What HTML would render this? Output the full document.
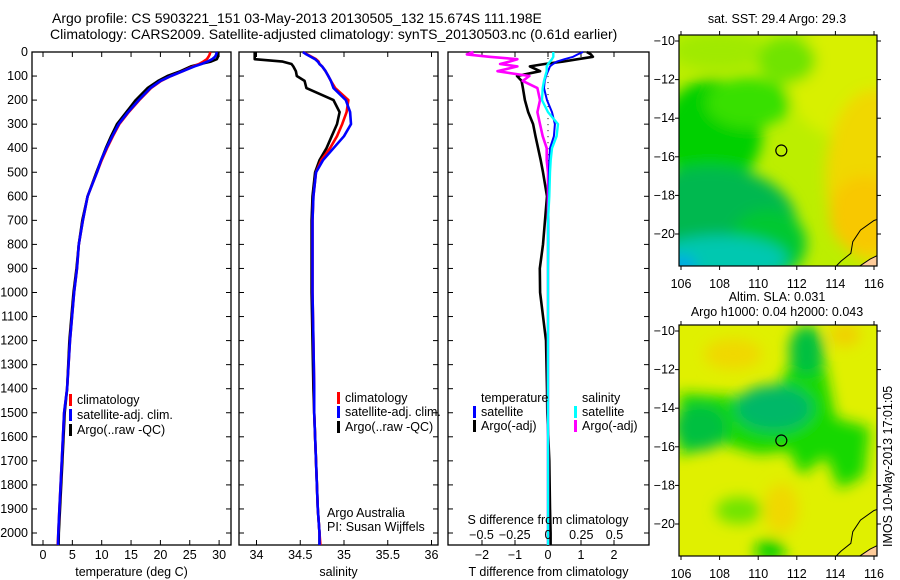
<!DOCTYPE html>
<html><head><meta charset="utf-8">
<style>
html,body{margin:0;padding:0;background:#fff;}
svg{display:block;font-family:"Liberation Sans",sans-serif;}
text{font-size:12.5px;fill:#000;}
</style></head>
<body>
<svg id="fig" width="900" height="580" viewBox="0 0 900 580" xmlns="http://www.w3.org/2000/svg">
<defs>
<filter id="blur1" x="-20%" y="-20%" width="140%" height="140%"><feGaussianBlur stdDeviation="9"/></filter>
<filter id="blur2" x="-20%" y="-20%" width="140%" height="140%"><feGaussianBlur stdDeviation="7"/></filter>
<clipPath id="clipTop"><rect x="679" y="35" width="198" height="231"/></clipPath>
<clipPath id="clipBot"><rect x="679" y="325" width="198" height="231"/></clipPath>
</defs>
<text x="52" y="23" style="font-size:14px">Argo profile: CS 5903221_151 03-May-2013 20130505_132 15.674S 111.198E</text>
<text x="50" y="39" style="font-size:14px">Climatology: CARS2009. Satellite-adjusted climatology: synTS_20130503.nc (0.61d earlier)</text>
<g id="plots"></g>
<g id="maps"></g>
</svg>
<script>
// ===== data =====
const depths = [0,10,20,30,40,50,60,80,100,120,150,200,250,300,350,400,450,500,600,700,800,900,1000,1200,1400,1500,1700,1900,2000,2050];
const tempClim = [28.5,28.4,28.2,27.9,27.3,26.6,25.6,23.8,21.8,20.1,18.4,16.4,14.6,13.0,11.9,10.9,10.0,9.2,7.6,6.8,6.1,5.8,5.3,4.6,4.1,3.6,3.2,2.8,2.6,2.5];
const tempSat  = [29.6,29.5,29.3,28.8,28.0,27.0,25.8,23.8,21.8,20.0,18.3,16.3,14.5,12.9,11.8,10.8,9.9,9.2,7.6,6.8,6.1,5.8,5.3,4.6,4.1,3.6,3.2,2.8,2.6,2.55];
const tempArgo = [29.7,29.8,29.8,29.6,28.6,26.8,25.2,23.4,21.2,19.6,17.8,15.8,14.2,12.6,11.6,10.7,9.9,9.1,7.6,6.7,6.1,5.7,5.2,4.5,4.1,3.7,3.3,2.9,2.7,2.65];
const salClim  = [34.53,34.58,34.63,34.68,34.71,34.72,34.75,34.79,34.82,34.85,34.90,35.05,35.03,34.98,34.92,34.84,34.74,34.68,34.65,34.64,34.64,34.64,34.64,34.65,34.66,34.66,34.68,34.70,34.72,34.73];
const salSat   = [34.53,34.57,34.62,34.67,34.70,34.72,34.75,34.79,34.82,34.85,34.88,35.02,35.07,35.08,35.00,34.88,34.76,34.68,34.65,34.64,34.64,34.64,34.64,34.65,34.66,34.66,34.68,34.70,34.72,34.72];
const salArgo  = [33.98,33.98,33.98,33.98,34.30,34.40,34.42,34.45,34.46,34.55,34.57,34.88,34.95,34.92,34.86,34.80,34.72,34.67,34.64,34.63,34.63,34.63,34.63,34.64,34.65,34.66,34.68,34.70,34.72,34.72];
const tDiffSat  = [1.06,0.9,0.76,0.5,0.27,0.15,0.06,0.0,-0.06,-0.1,-0.12,-0.03,0.12,0.21,0.18,0.06,0.04,0.03,0.02,0.01,0.01,0.0,0.0,0.0,0.0,0.0,0.0,0.0,0.0,0.0];
const tDiffArgo = [1.18,1.3,1.36,0.9,0.45,-0.1,-0.55,-0.24,-0.94,-0.8,-0.76,-0.7,-0.6,-0.45,-0.38,-0.3,-0.22,-0.15,-0.03,-0.09,-0.15,-0.25,-0.24,-0.06,-0.03,-0.02,0.04,0.06,0.08,0.08];
const sDiffSat  = [0.04,0.04,0.04,0.03,0.015,0.0,-0.01,-0.01,-0.02,-0.03,-0.04,-0.045,0.0,0.075,0.065,0.03,0.02,0.015,0.01,0.0,0.0,0.0,0.0,0.0,0.0,0.0,0.0,0.0,0.0,0.0];
const sDiffArgo = [-0.56,-0.61,-0.44,-0.23,-0.29,-0.36,-0.23,-0.38,-0.14,-0.19,-0.08,-0.06,-0.08,-0.06,-0.04,-0.01,-0.01,0.0,0.0,0.0,0.0,0.0,0.0,0.0,0.0,0.0,0.0,0.0,0.0,0.0];
const depthTicks = [0,100,200,300,400,500,600,700,800,900,1000,1100,1200,1300,1400,1500,1600,1700,1800,1900,2000];
const tempTicks = [0,5,10,15,20,25,30];
const salTicks = [34,34.5,35,35.5,36];
const tDiffTicks = [-2,-1,0,1,2];
const sDiffTicks = [-0.5,-0.25,0,0.25,0.5];

// ===== scales =====
const TOP=52, BOT=545;
const yD = d => TOP + d*0.2405;
const xT = t => 43 + t*5.87;
const xS = s => 256.5 + (s-34)*87.5;
const xTD = v => 548 + v*33;
const xSD = v => 548 + v*133;

const NS='http://www.w3.org/2000/svg';
const plots=document.getElementById('plots');
function mk(tag, attrs, parent, txt){
  const e=document.createElementNS(NS,tag);
  for(const k in attrs) e.setAttribute(k,attrs[k]);
  if(txt!==undefined) e.textContent=txt;
  (parent||plots).appendChild(e); return e;
}
function fmt(v){return String(v).replace('-','\u2212');}

function panel(name,x0,x1,ticks,xs,title){
  const g=mk('g',{});
  
  
  const r=mk('rect',{x:x0,y:TOP,width:x1-x0,height:BOT-TOP,fill:'none',stroke:'#000','stroke-width':1.3},g);
  
  
  ticks.forEach(t=>{
    const x=xs(t);
    mk('line',{x1:x,x2:x,y1:TOP,y2:TOP+5,stroke:'#000'},g);
    mk('line',{x1:x,x2:x,y1:BOT,y2:BOT-5,stroke:'#000'},g);
    const tl=mk('text',{x:x,y:559,'text-anchor':'middle'},g,fmt(t));
    
    
  });
  depthTicks.forEach(d=>{
    const y=yD(d);
    mk('line',{x1:x0,x2:x0+5,y1:y,y2:y,stroke:'#000'},g);
    mk('line',{x1:x1,x2:x1-5,y1:y,y2:y,stroke:'#000'},g);
  });
  if(title){
    const tt=mk('text',{x:(x0+x1)/2,y:576,'text-anchor':'middle'},g,title);
    
    
  }
  return g;
}
function series(name,xs,vals,color,w){
  let d='';
  depths.forEach((dep,i)=>{d+=(i?'L':'M')+xs(vals[i]).toFixed(1)+','+yD(dep).toFixed(1);});
  const p=mk('path',{d:d,fill:'none',stroke:color,'stroke-width':w||2.6,'stroke-linejoin':'round'});
  
  
}
function legend(x,y,color,label,nm){
  mk('rect',{x:x,y:y-6,width:3,height:12,fill:color});
  const t=mk('text',{x:x+8,y:y+4},plots,label);
  
  
}

// panel 1 temperature
panel('temperature',32,231,tempTicks,xT,'temperature (deg C)');
depthTicks.forEach(d=>{
  const t=mk('text',{x:28,y:yD(d)+4,'text-anchor':'end'},plots,String(d));
  
  
});
series('temp-argo-line',xT,tempArgo,'#000');
series('temp-clim-line',xT,tempClim,'#f00');
series('temp-sat-line',xT,tempSat,'#00f');
legend(69,400,'#f00','climatology','temp-legend-climatology');
legend(69,415,'#00f','satellite-adj. clim.','temp-legend-satellite');
legend(69,430,'#000','Argo(..raw -QC)','temp-legend-argo');

// panel 2 salinity
panel('salinity',239,438,salTicks,xS,'salinity');
series('sal-argo-line',xS,salArgo,'#000');
series('sal-clim-line',xS,salClim,'#f00');
series('sal-sat-line',xS,salSat,'#00f');
legend(337,398,'#f00','climatology','sal-legend-climatology');
legend(337,412,'#00f','satellite-adj. clim.','sal-legend-satellite');
legend(337,427,'#000','Argo(..raw -QC)','sal-legend-argo');
(function(){
  const a=mk('text',{x:327,y:517},plots,'Argo Australia');
  
  
  const b=mk('text',{x:327,y:531},plots,'PI: Susan Wijffels');
  
  
})();

// panel 3 differences
panel('difference',448,649,tDiffTicks,xTD,'T difference from climatology');
for(let d=0; d<=2050; d+=25){
  mk('rect',{x:547.5,y:yD(d),width:1,height:1,fill:'#000'});
}
series('tdiff-argo-line',xTD,tDiffArgo,'#000');
series('sdiff-argo-line',xSD,sDiffArgo,'#f0f');
series('tdiff-sat-line',xTD,tDiffSat,'#00f',2);
series('sdiff-sat-line',xSD,sDiffSat,'#0ff',2.4);
sDiffTicks.forEach(v=>{
  const t=mk('text',{x:xSD(v),y:539,'text-anchor':'middle'},plots,fmt(v));
  
  
});
(function(){
  const t=mk('text',{x:548,y:524,'text-anchor':'middle'},plots,'S difference from climatology');
  
  
  const a=mk('text',{x:481,y:402},plots,'temperature');
  
  
  const b=mk('text',{x:582,y:402},plots,'salinity');
  
  
})();
legend(473,412,'#00f','satellite','diff-legend-t-satellite');
legend(473,426,'#000','Argo(-adj)','diff-legend-t-argo');
legend(574,412,'#0ff','satellite','diff-legend-s-satellite');
legend(574,426,'#f0f','Argo(-adj)','diff-legend-s-argo');

// ===== maps =====
const maps=document.getElementById('maps');
const lonTicks=[106,108,110,112,114,116];
const latTicks=[-10,-12,-14,-16,-18,-20];
const MX0=679,MX1=877;
const xLon = lon => 681 + (lon-106)*19.3;
function drawMap(name,y0,blobs,base,filt){
  const g=mk('g',{},maps);
  
  
  const yLat = lat => y0+6 + (-10-lat)*19.3;
  const clip=mk('g',{'clip-path':'url(#'+(y0<100?'clipTop':'clipBot')+')'},g);
  mk('rect',{x:MX0,y:y0,width:198,height:231,fill:base},clip);
  const bg=mk('g',{filter:'url(#'+filt+')'},clip);
  blobs.forEach(b=>{
    if(b.pts){mk('polygon',{points:b.pts.map(p=>xLon(p[0]).toFixed(1)+','+yLat(p[1]).toFixed(1)).join(' '),fill:b.c},bg);}
    else mk('ellipse',{cx:xLon(b.lon),cy:yLat(b.lat),rx:b.rx*19.3,ry:b.ry*19.3,fill:b.c},bg);
  });
  const land=[[116.6,-20.9],[115.8,-21.3],[115.2,-21.7],[116.6,-21.7]];
  mk('polygon',{points:land.map(p=>xLon(p[0])+','+yLat(p[1])).join(' '),fill:'#ffcc99'},clip);
  const coast=[[116.6,-19.1],[116.0,-19.3],[115.3,-19.8],[114.9,-20.4],[114.8,-21.0],[114.3,-21.4],[114.0,-21.7]];
  mk('polyline',{points:coast.map(p=>xLon(p[0])+','+yLat(p[1])).join(' '),fill:'none',stroke:'#000','stroke-width':1},clip);
  mk('polyline',{points:land.slice(0,3).map(p=>xLon(p[0])+','+yLat(p[1])).join(' '),fill:'none',stroke:'#000','stroke-width':1},clip);
  mk('rect',{x:MX0,y:y0,width:198,height:231,fill:'none',stroke:'#000','stroke-width':1.2},g);
  lonTicks.forEach(l=>{
    const x=xLon(l);
    mk('line',{x1:x,x2:x,y1:y0,y2:y0-4,stroke:'#000'},g);
    mk('line',{x1:x,x2:x,y1:y0+231,y2:y0+235,stroke:'#000'},g);
    const t=mk('text',{x:x,y:y0+253,'text-anchor':'middle'},g,String(l));
    
    
  });
  latTicks.forEach(l=>{
    const y=yLat(l);
    mk('line',{x1:MX0,x2:MX0-4,y1:y,y2:y,stroke:'#000'},g);
    mk('line',{x1:MX1,x2:MX1+4,y1:y,y2:y,stroke:'#000'},g);
    const t=mk('text',{x:675,y:y+4,'text-anchor':'end'},g,fmt(l));
    
    
  });
  const c=mk('circle',{cx:xLon(111.198),cy:yLat(-15.674),r:5.5,fill:'none',stroke:'#000','stroke-width':1.2},g);
  
  
  return g;
}
drawMap('sst-map',35,[
  {lon:114.5,lat:-12,rx:3,ry:3,c:'#d8f000'},
  {lon:116,lat:-17,rx:2.5,ry:4.5,c:'#f0d800'},
  {lon:115.5,lat:-19,rx:1.8,ry:2,c:'#f8c800'},
  {lon:108,lat:-10.5,rx:2.5,ry:1,c:'#a0ea00'},
  {lon:107.6,lat:-14.8,rx:2.6,ry:2.8,c:'#00d000'},
  {lon:109.5,lat:-13.2,rx:2.2,ry:1.3,c:'#38e000'},
  {lon:107.5,lat:-19.5,rx:4.5,ry:3,c:'#00b850'},
  {lon:110.5,lat:-20.5,rx:2,ry:1.8,c:'#00c830'},
  {lon:108,lat:-21.3,rx:3.5,ry:1.2,c:'#00c8b0'},
  {lon:106,lat:-21.7,rx:0.8,ry:0.6,c:'#00a8e8'},
  {lon:111.5,lat:-11,rx:1.5,ry:1.2,c:'#70e400'}
],'#bcee00','blur2');
drawMap('sla-map',325,[
  {pts:[[105.9,-13.2],[109,-13.4],[111,-13],[112,-11],[113,-10],[113.5,-12],[114,-14.5],[115.8,-15],[115.5,-17.5],[114.2,-18.2],[113.5,-16.5],[112.2,-17.5],[111.6,-16.2],[110,-16.4],[108,-15.8],[105.9,-16.5]],c:'#18d800'},
  {lon:110.8,lat:-14,rx:2,ry:1.2,c:'#00b868'},
  {lon:107,lat:-15,rx:1.4,ry:1.2,c:'#00c040'},
  {lon:112.5,lat:-11,rx:0.9,ry:1.3,c:'#00c040'},
  {lon:108.7,lat:-11.2,rx:1.5,ry:0.8,c:'#f0d800'},
  {lon:111.2,lat:-19.2,rx:0.9,ry:1.3,c:'#f0d800'},
  {lon:114.5,lat:-10.2,rx:0.8,ry:0.6,c:'#f0d000'},
  {lon:109,lat:-19.3,rx:1.2,ry:0.7,c:'#70e400'},
  {lon:110.6,lat:-21.4,rx:0.8,ry:0.6,c:'#10d000'}
],'#e0f000','blur2');
(function(){
  const a=mk('text',{x:777,y:23,'text-anchor':'middle'},maps,'sat. SST: 29.4 Argo: 29.3');
  
  
  const b=mk('text',{x:777,y:301,'text-anchor':'middle'},maps,'Altim. SLA: 0.031');
  
  
  const c=mk('text',{x:777,y:316,'text-anchor':'middle'},maps,'Argo h1000: 0.04 h2000: 0.043');
  
  
  const d=mk('text',{x:0,y:0,transform:'translate(892,547) rotate(-90)'},maps,'IMOS 10-May-2013 17:01:05');
  
  
})();
</script>
</body></html>
